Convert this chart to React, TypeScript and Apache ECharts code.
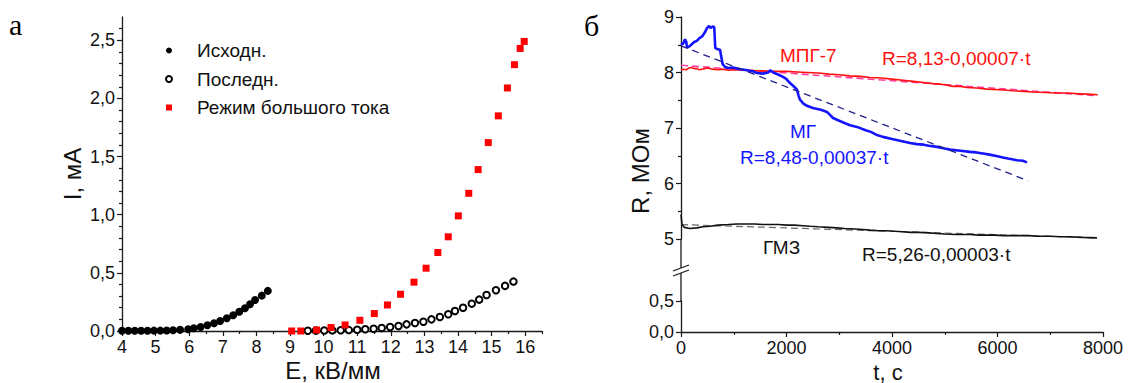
import React, { useEffect, useRef } from 'react';
import * as echarts from 'echarts';

const FONT = '"Liberation Sans", Arial, Helvetica, sans-serif';
const SERIF = '"Liberation Serif", "Times New Roman", serif';

// ---------- Panel "а": I (мА) vs E (кВ/мм) ----------
const initialData: [number, number][] = [
  [4.0, 0.002], [4.19, 0.002], [4.38, 0.002], [4.57, 0.002], [4.76, 0.002],
  [4.95, 0.003], [5.14, 0.003], [5.33, 0.004], [5.52, 0.006], [5.73, 0.01],
  [5.97, 0.015], [6.14, 0.023], [6.34, 0.034], [6.54, 0.049], [6.74, 0.066],
  [6.92, 0.086], [7.12, 0.109], [7.31, 0.135], [7.49, 0.166], [7.66, 0.195],
  [7.81, 0.23], [7.96, 0.267], [8.16, 0.304], [8.34, 0.345],
];
const finalData: [number, number][] = [
  [9.53, 0.002], [9.77, 0.003], [10.02, 0.004], [10.26, 0.005], [10.51, 0.006],
  [10.75, 0.008], [11.0, 0.011], [11.24, 0.015], [11.49, 0.019], [11.73, 0.026],
  [11.98, 0.034], [12.23, 0.043], [12.47, 0.057], [12.72, 0.069], [12.97, 0.08],
  [13.21, 0.1], [13.46, 0.12], [13.71, 0.144], [13.91, 0.172], [14.15, 0.2],
  [14.41, 0.235], [14.63, 0.27], [14.85, 0.31], [15.13, 0.35], [15.4, 0.388],
  [15.65, 0.425],
];
const highCurrentData: [number, number][] = [
  [9.05, 0.0], [9.32, 0.0], [9.79, 0.009], [10.22, 0.03], [10.64, 0.052],
  [11.08, 0.092], [11.51, 0.15], [11.9, 0.224], [12.29, 0.316], [12.69, 0.42],
  [13.05, 0.54], [13.4, 0.675], [13.71, 0.81], [14.01, 0.99], [14.32, 1.184],
  [14.6, 1.388], [14.9, 1.62], [15.2, 1.85], [15.47, 2.09], [15.68, 2.29],
  [15.85, 2.43], [15.97, 2.49],
];
const leftXMajor = [4, 5, 6, 7, 8, 9, 10, 11, 12, 13, 14, 15, 16];
const leftXMinor = [4.5, 5.5, 6.5, 7.5, 8.5, 9.5, 10.5, 11.5, 12.5, 13.5, 14.5, 15.5, 16.5];
const leftYMajor = [0, 0.5, 1, 1.5, 2, 2.5];
const leftYMinor = [
  0.1, 0.2, 0.3, 0.4, 0.6, 0.7, 0.8, 0.9, 1.1, 1.2, 1.3, 1.4,
  1.6, 1.7, 1.8, 1.9, 2.1, 2.2, 2.3, 2.4, 2.6,
];

// ---------- Panel "б": R (МОм) vs t (c) ----------
const mgData: [number, number][] = [
  [0, 8.5], [40, 8.52], [76, 8.6], [100, 8.55], [114, 8.45], [160, 8.47],
  [250, 8.55], [300, 8.57], [350, 8.62], [400, 8.65], [450, 8.72], [493, 8.8],
  [530, 8.84], [560, 8.8], [600, 8.83], [630, 8.82], [650, 8.44], [700, 8.42],
  [740, 8.41], [760, 8.3], [790, 8.15], [834, 8.1], [900, 8.08], [980, 8.09],
  [1062, 8.07], [1130, 8.06], [1200, 8.05], [1300, 8.03], [1370, 8.02], [1441, 7.99],
  [1550, 7.98], [1650, 8.0], [1690, 8.04], [1750, 8.0], [1850, 7.96], [1934, 7.92],
  [2000, 7.88], [2066, 7.81], [2150, 7.74], [2199, 7.69], [2230, 7.58], [2256, 7.51],
  [2320, 7.44], [2389, 7.4], [2500, 7.36], [2650, 7.33], [2768, 7.29], [2820, 7.24],
  [2882, 7.18], [3000, 7.13], [3100, 7.09], [3204, 7.05], [3336, 7.02], [3500, 6.96],
  [3600, 6.93], [3700, 6.88], [3829, 6.84], [4000, 6.8], [4150, 6.77], [4341, 6.73],
  [4474, 6.71], [4600, 6.7], [4700, 6.68], [4853, 6.66], [5000, 6.63], [5100, 6.61],
  [5300, 6.59], [5479, 6.57], [5600, 6.56], [5725, 6.54], [5850, 6.52], [6000, 6.49],
  [6100, 6.47], [6200, 6.45], [6370, 6.42], [6480, 6.41], [6560, 6.38],
];
const mpgData: [number, number][] = [
  [0, 8.05], [50, 8.06], [100, 8.05], [150, 8.08], [200, 8.09], [250, 8.07],
  [300, 8.07], [350, 8.05], [400, 8.06], [500, 8.08], [600, 8.06], [700, 8.05],
  [800, 8.06], [900, 8.04], [1000, 8.05], [1200, 8.04], [1500, 8.03], [1800, 8.02],
  [2000, 8.02], [2200, 8.01], [2400, 8.0], [2600, 7.99], [2800, 7.97], [3000, 7.96],
  [3200, 7.94], [3400, 7.93], [3583, 7.91], [3800, 7.9], [4000, 7.88], [4208, 7.86],
  [4400, 7.84], [4600, 7.82], [4777, 7.8], [4900, 7.79], [5000, 7.78], [5156, 7.75],
  [5300, 7.75], [5422, 7.73], [5600, 7.72], [5800, 7.7], [6047, 7.69], [6300, 7.67],
  [6500, 7.66], [6673, 7.65], [6900, 7.64], [7100, 7.63], [7318, 7.63], [7500, 7.62],
  [7700, 7.61], [7900, 7.6],
];
const gmzData: [number, number][] = [
  [0, 5.44], [19, 5.26], [60, 5.21], [171, 5.19], [300, 5.2], [417, 5.22],
  [550, 5.23], [700, 5.25], [900, 5.26], [1062, 5.27], [1250, 5.27], [1400, 5.27],
  [1550, 5.26], [1687, 5.26], [1850, 5.26], [2000, 5.25], [2150, 5.25], [2313, 5.24],
  [2450, 5.23], [2600, 5.22], [2800, 5.21], [2957, 5.2], [3100, 5.19], [3300, 5.18],
  [3450, 5.17], [3583, 5.16], [3750, 5.15], [3900, 5.15], [4050, 5.14], [4208, 5.13],
  [4350, 5.12], [4500, 5.12], [4700, 5.11], [4853, 5.1], [5000, 5.09], [5200, 5.08],
  [5350, 5.08], [5479, 5.08], [5650, 5.07], [5800, 5.07], [5950, 5.07], [6104, 5.06],
  [6250, 5.06], [6400, 5.06], [6600, 5.06], [6749, 5.05], [7000, 5.05], [7200, 5.04],
  [7374, 5.04], [7600, 5.03], [7886, 5.02],
];
const mgFit: [number, number][] = [[0, 8.48], [6578, 6.05]];
const mpgFit: [number, number][] = [[0, 8.13], [7900, 7.58]];
const gmzFit: [number, number][] = [[0, 5.26], [7900, 5.02]];

const AX = '#1a1a1a';
const comma = (v: number) => v.toFixed(1).replace('.', ',');

function txt(text: string, x: number, y: number, size: number, color: string, extra: any = {}) {
  const { serif, align, ...rest } = extra;
  return {
    type: 'text',
    x,
    y,
    silent: true,
    ...rest,
    style: {
      text,
      fill: color,
      font: `${size}px ${serif ? SERIF : FONT}`,
      align: align || 'left',
      verticalAlign: 'middle',
      textAlign: align || 'left',
      textVerticalAlign: 'middle',
    },
  };
}

function ln(x1: number, y1: number, x2: number, y2: number) {
  return {
    type: 'line',
    silent: true,
    shape: { x1, y1, x2, y2 },
    style: { stroke: AX, lineWidth: 1.3 },
  };
}

const labelStyle = { fontSize: 18, color: '#111', fontFamily: FONT };

export default function App() {
  const ref = useRef<HTMLDivElement>(null);
  useEffect(() => {
    const chart = echarts.init(ref.current!, null, { renderer: 'svg' });
    const option: any = {
      animation: false,
      backgroundColor: '#fff',
      textStyle: { fontFamily: FONT },
      grid: [
        { left: 122, top: 17, width: 420, height: 314 },
        { left: 681, top: 17, width: 422, height: 222 },
        { left: 681, top: 301, width: 422, height: 31 },
      ],
      legend: {
        orient: 'vertical',
        left: 160,
        top: 36,
        itemWidth: 6,
        itemHeight: 6,
        itemGap: 9.5,
        data: ['Исходн.', 'Последн.', 'Режим большого тока'],
        textStyle: { fontSize: 19, color: '#111', fontFamily: FONT, padding: [0, 0, 0, 20], lineHeight: 19 },
      },
      xAxis: [
        {
          gridIndex: 0, type: 'value', min: 4, max: 16.5, position: 'bottom',
          axisLine: { show: true, onZero: false, lineStyle: { color: AX, width: 1.3 } },
          axisTick: { show: true, customValues: leftXMajor, length: 5, lineStyle: { color: AX, width: 1.2 } },
          axisLabel: { customValues: leftXMajor, margin: 7, ...labelStyle },
          splitLine: { show: false },
        },
        {
          gridIndex: 0, type: 'value', min: 4, max: 16.5, position: 'bottom',
          axisLine: { show: false, onZero: false },
          axisTick: { show: true, customValues: leftXMinor, length: 3, lineStyle: { color: AX, width: 1.2 } },
          axisLabel: { show: false },
          splitLine: { show: false },
        },
        { gridIndex: 1, type: 'value', min: 0, max: 8000, show: false, splitLine: { show: false } },
        {
          gridIndex: 2, type: 'value', min: 0, max: 8000, interval: 2000, position: 'bottom',
          axisLine: { show: true, onZero: false, lineStyle: { color: AX, width: 1.3 } },
          axisTick: { show: true, length: 5, lineStyle: { color: AX, width: 1.2 } },
          minorTick: { show: true, splitNumber: 2, length: 3, lineStyle: { color: AX, width: 1.2 } },
          axisLabel: { margin: 7, formatter: (v: number) => String(Math.round(v)), ...labelStyle },
          splitLine: { show: false },
          minorSplitLine: { show: false },
        },
      ],
      yAxis: [
        {
          gridIndex: 0, type: 'value', min: 0, max: 2.7, position: 'left',
          axisLine: { show: true, onZero: false, lineStyle: { color: AX, width: 1.3 } },
          axisTick: { show: true, customValues: leftYMajor, length: 5, lineStyle: { color: AX, width: 1.2 } },
          axisLabel: { customValues: leftYMajor, margin: 7, formatter: (v: number) => comma(v), ...labelStyle },
          splitLine: { show: false },
        },
        {
          gridIndex: 0, type: 'value', min: 0, max: 2.7, position: 'left',
          axisLine: { show: false, onZero: false },
          axisTick: { show: true, customValues: leftYMinor, length: 3, lineStyle: { color: AX, width: 1.2 } },
          axisLabel: { show: false },
          splitLine: { show: false },
        },
        {
          gridIndex: 1, type: 'value', min: 5, max: 9, interval: 1, position: 'left',
          axisLine: { show: true, onZero: false, lineStyle: { color: AX, width: 1.3 } },
          axisTick: { show: true, length: 5, lineStyle: { color: AX, width: 1.2 } },
          minorTick: { show: true, splitNumber: 2, length: 3, lineStyle: { color: AX, width: 1.2 } },
          axisLabel: { margin: 7, ...labelStyle },
          splitLine: { show: false },
          minorSplitLine: { show: false },
        },
        {
          gridIndex: 2, type: 'value', min: 0, max: 0.5, interval: 0.5, position: 'left',
          axisLine: { show: true, onZero: false, lineStyle: { color: AX, width: 1.3 } },
          axisTick: { show: true, length: 5, lineStyle: { color: AX, width: 1.2 } },
          axisLabel: { margin: 7, formatter: (v: number) => comma(v), ...labelStyle },
          splitLine: { show: false },
        },
      ],
      series: [
        {
          name: 'Исходн.', type: 'scatter', xAxisIndex: 0, yAxisIndex: 0,
          data: initialData, symbol: 'circle', symbolSize: 8,
          itemStyle: { color: '#000', opacity: 1 },
        },
        {
          name: 'Последн.', type: 'scatter', xAxisIndex: 0, yAxisIndex: 0,
          data: finalData, symbol: 'emptyCircle', symbolSize: 6.5,
          itemStyle: { color: '#000', borderColor: '#000', borderWidth: 1.6, opacity: 1 },
        },
        {
          name: 'Режим большого тока', type: 'scatter', xAxisIndex: 0, yAxisIndex: 0,
          data: highCurrentData, symbol: 'rect', symbolSize: 7,
          itemStyle: { color: '#ff0000', opacity: 1 },
        },
        {
          name: 'fitMPG', type: 'line', xAxisIndex: 2, yAxisIndex: 2, data: mpgFit,
          showSymbol: false, lineStyle: { color: '#ff3d9e', width: 1.6, type: [7, 4] },
        },
        {
          name: 'МПГ-7', type: 'line', xAxisIndex: 2, yAxisIndex: 2, data: mpgData,
          showSymbol: false, lineStyle: { color: '#ff1010', width: 1.6 },
        },
        {
          name: 'fitGMZ', type: 'line', xAxisIndex: 2, yAxisIndex: 2, data: gmzFit,
          showSymbol: false, lineStyle: { color: '#666', width: 1.2, type: [7, 4] },
        },
        {
          name: 'ГМЗ', type: 'line', xAxisIndex: 2, yAxisIndex: 2, data: gmzData,
          showSymbol: false, lineStyle: { color: '#111', width: 1.6 },
        },
        {
          name: 'МГ', type: 'line', xAxisIndex: 2, yAxisIndex: 2, data: mgData,
          showSymbol: false, lineStyle: { color: '#1414ff', width: 2.6 },
        },
        {
          name: 'fitMG', type: 'line', xAxisIndex: 2, yAxisIndex: 2, data: mgFit,
          showSymbol: false, lineStyle: { color: '#20208a', width: 1.3, type: [7, 5] },
        },
      ],
      graphic: [
        txt('а', 9, 24, 30, '#000', { serif: true }),
        txt('б', 584, 25, 30, '#000', { serif: true }),
        txt('I, мА', 72, 174, 24, '#111', { rotation: Math.PI / 2, align: 'center' }),
        txt('E, кВ/мм', 333, 370, 24, '#111', { align: 'center' }),
        txt('R, МОм', 640, 171, 24, '#111', { rotation: Math.PI / 2, align: 'center' }),
        txt('t, c', 888, 372, 22, '#111', { align: 'center' }),
        txt('МПГ-7', 780, 55, 19, '#ff1010'),
        txt('R=8,13-0,00007·t', 882, 58, 19, '#ff1010'),
        txt('МГ', 790, 131, 19, '#1414ff'),
        txt('R=8,48-0,00037·t', 740, 157, 19, '#1414ff'),
        txt('ГМЗ', 763, 247, 19, '#111'),
        txt('R=5,26-0,00003·t', 862, 254, 19, '#111'),
        ln(681, 239, 681, 268),
        ln(681, 273, 681, 301),
        ln(673, 271, 689, 265),
        ln(673, 276, 689, 270),
      ],
    };
    chart.setOption(option);
    return () => chart.dispose();
  }, []);
  return (
    <div
      ref={ref}
      style={{ position: 'absolute', left: 0, top: 0, width: 1135, height: 383, background: '#fff' }}
    />
  );
}
